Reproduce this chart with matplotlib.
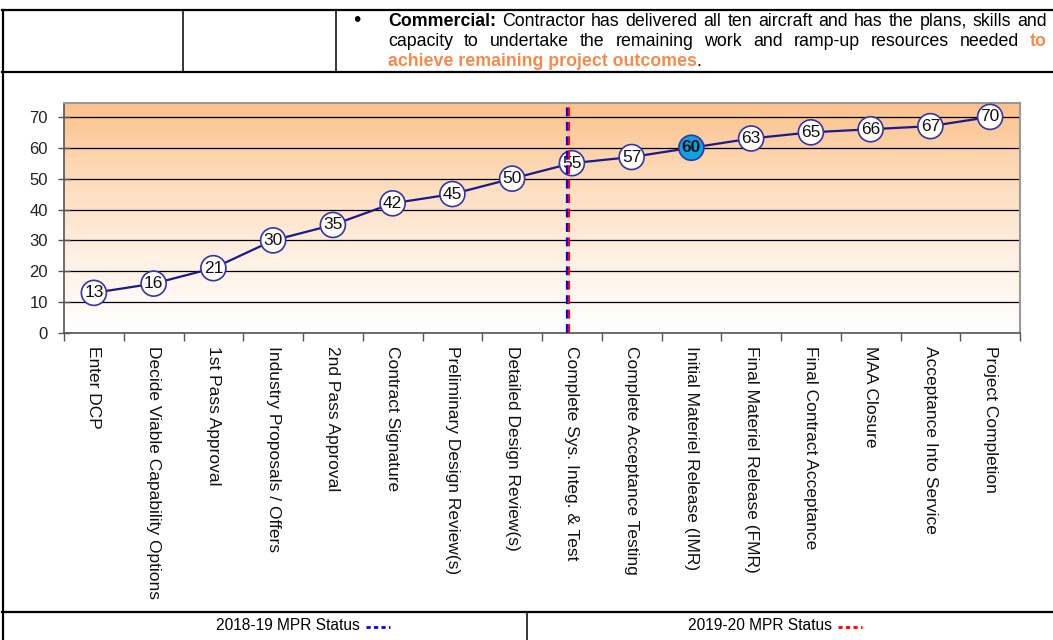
import matplotlib
matplotlib.use("Agg")
import matplotlib.pyplot as plt
import numpy as np
from matplotlib.lines import Line2D
from matplotlib.colors import LinearSegmentedColormap

plt.rcParams['font.family'] = ['Liberation Sans', 'DejaVu Sans']

categories = [
    "Enter DCP", "Decide Viable Capability Options", "1st Pass Approval",
    "Industry Proposals / Offers", "2nd Pass Approval", "Contract Signature",
    "Preliminary Design Review(s)", "Detailed Design Review(s)",
    "Complete Sys. Integ. & Test", "Complete Acceptance Testing",
    "Initial Materiel Release (IMR)", "Final Materiel Release (FMR)",
    "Final Contract Acceptance", "MAA Closure", "Acceptance Into Service",
    "Project Completion",
]
values = [13, 16, 21, 30, 35, 42, 45, 50, 55, 57, 60, 63, 65, 66, 67, 70]
highlight_index = 10
status_2018_19 = 7.925  # category position of the 2018-19 MPR status line
status_2019_20 = 7.96   # category position of the 2019-20 MPR status line
yticks = [0, 10, 20, 30, 40, 50, 60, 70]

W, H = 1053, 640
fig = plt.figure(figsize=(W / 100, H / 100), dpi=100)


def fx(px):
    return px / W


def fy(py):
    return 1 - py / H


ax = fig.add_axes([fx(64), fy(333), (1020 - 64) / W, (333 - 103) / H])
x = np.arange(len(categories))
ymax = 74.5

cmap = LinearSegmentedColormap.from_list("bg", ["#FFFFFF", "#FEF0E3", "#FDDCBC", "#FBC28C"])
ax.imshow(np.linspace(1, 0, 256).reshape(-1, 1), cmap=cmap, aspect='auto',
          extent=[-0.5, len(categories) - 0.5, 0, ymax], zorder=0, vmin=0, vmax=1)

ax.set_axisbelow(True)
ax.yaxis.grid(True, color='black', lw=0.9)

ax.plot(x, values, color='#1A1A8C', lw=1.6, zorder=3)
fc = ['#0AA3E4' if i == highlight_index else 'white' for i in range(len(values))]
ax.scatter(x, values, s=18 ** 2, facecolors=fc, edgecolors='#3535A5', linewidths=1.2, zorder=4)
for i, v in enumerate(values):
    ax.text(i, v, str(v), ha='center', va='center', fontsize=12.5,
            fontweight='bold' if i == highlight_index else 'normal', color='#111111', zorder=5)

ax.axvline(status_2018_19, color='#0000FF', lw=1.6, ls=(0, (4, 2.5)), zorder=6)
ax.axvline(status_2019_20, color='#FF0000', lw=1.6, ls=(0, (4, 2.5)), zorder=6)

ax.set_xlim(-0.5, len(categories) - 0.5)
ax.set_ylim(0, ymax)
ax.set_xticks(x)
ax.set_xticklabels(categories, rotation=270, fontsize=12.5, color='#111111')
ax.tick_params(axis='x', which='major', length=0, pad=9)
ax.set_xticks(np.arange(-0.5, len(categories), 1), minor=True)
ax.tick_params(axis='x', which='minor', length=6, width=1, color='#555555', direction='out')
ax.set_yticks(yticks)
ax.tick_params(axis='y', length=9, width=1, color='#555555', direction='inout',
               labelsize=12, labelcolor='#222222', pad=7)
for s in ['top', 'right']:
    ax.spines[s].set_color('#9A9A9A')
    ax.spines[s].set_linewidth(1.5)
for s in ['left', 'bottom']:
    ax.spines[s].set_color('#555555')
    ax.spines[s].set_linewidth(1.2)


def hline(y, x0, x1, lw=1.6):
    fig.add_artist(Line2D([fx(x0), fx(x1)], [fy(y), fy(y)], color='black', lw=lw, transform=fig.transFigure))


def vline(xp, y0, y1, lw=1.6):
    fig.add_artist(Line2D([fx(xp), fx(xp)], [fy(y0), fy(y1)], color='black', lw=lw, transform=fig.transFigure))


hline(10, 2, W)
hline(72, 2, W)
hline(612, 2, W)
vline(3, 10, H)
vline(183, 10, 72, lw=1.1)
vline(336, 10, 72, lw=1.1)
vline(527, 612, H, lw=1.1)

orange = '#F58A4B'
fs_top = 12.8
renderer = fig.canvas.get_renderer()


def measure(t):
    return t.get_window_extent(renderer=renderer).width


def place_words(words, x0, y, x1=None):
    texts = []
    for w, col, wt in words:
        t = fig.text(fx(x0), fy(y), w, color=col, fontweight=wt, fontsize=fs_top,
                     ha='left', va='center')
        texts.append(t)
    widths = [measure(t) for t in texts]
    gap = (x1 - x0 - sum(widths)) / (len(words) - 1)
    cur = x0
    for t, w in zip(texts, widths):
        t.set_x(fx(cur))
        cur += w + gap
    return texts


fig.text(fx(357), fy(21), "\u2022", fontsize=15, ha='center', va='center', color='black')
line1 = [("Commercial:", 'black', 'bold')] + [(w, 'black', 'normal') for w in
         "Contractor has delivered all ten aircraft and has the plans, skills and".split()]
line2 = [(w, 'black', 'normal') for w in
         "capacity to undertake the remaining work and ramp-up resources needed".split()] + [("to", orange, 'bold')]
place_words(line1, 388, 21, 1047)
place_words(line2, 388, 41, 1047)
t3 = fig.text(fx(388), fy(61), "achieve remaining project outcomes", color=orange,
              fontweight='bold', fontsize=fs_top, ha='left', va='center')
w3 = measure(t3)
fig.text(fx(388 + w3), fy(61), ".", color='black', fontsize=fs_top, ha='left', va='center')

fs_b = 11.2
tb1 = fig.text(fx(216), fy(626), "2018-19 MPR Status", fontsize=fs_b, ha='left', va='center')
wb1 = measure(tb1)
fig.add_artist(Line2D([fx(216 + wb1 + 6), fx(216 + wb1 + 30)], [fy(627), fy(627)], color='#0000FF',
                      lw=2, ls=(0, (1.5, 1.2)), transform=fig.transFigure))
tb2 = fig.text(fx(688), fy(626), "2019-20 MPR Status", fontsize=fs_b, ha='left', va='center')
wb2 = measure(tb2)
fig.add_artist(Line2D([fx(688 + wb2 + 6), fx(688 + wb2 + 30)], [fy(627), fy(627)], color='#FF0000',
                      lw=2, ls=(0, (1.5, 1.2)), transform=fig.transFigure))

fig.savefig("out.png", dpi=100)
